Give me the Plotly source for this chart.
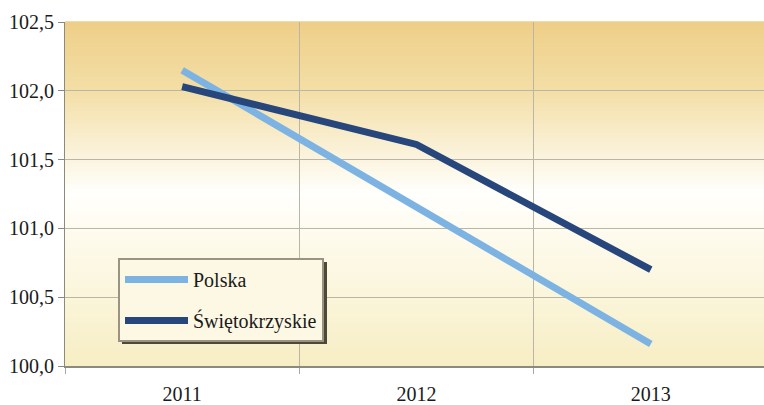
import plotly.graph_objects as go

years = ["2011", "2012", "2013"]
polska = [102.15, 101.16, 100.16]
swietokrzyskie = [102.03, 101.61, 100.70]
y_tickvals = [100.0, 100.5, 101.0, 101.5, 102.0, 102.5]
y_ticktext = ["100,0", "100,5", "101,0", "101,5", "102,0", "102,5"]

W, H = 764, 405
ML, MR, MT, MB = 65, 0, 22, 39
SERIF = "Liberation Serif"
FS = 20

fig = go.Figure()
fig.add_trace(go.Scatter(x=years, y=polska, mode="lines", name="Polska", legendgroup="a",
                         line=dict(color="#7db3e2", width=7)))
fig.add_trace(go.Scatter(x=years, y=swietokrzyskie, mode="lines", name="Świętokrzyskie",
                         legendgroup="b", line=dict(color="#26467c", width=7)))

stops = [(0.0, (238, 207, 136)), (0.2, (243, 222, 166)), (0.42, (252, 246, 228)),
         (0.5, (255, 255, 253)), (0.62, (254, 251, 238)), (1.0, (247, 238, 196))]

def col_at(f):
    for (a, ca), (b, cb) in zip(stops[:-1], stops[1:]):
        if a <= f <= b:
            t = (f - a) / (b - a) if b > a else 0
            c = [round(ca[i] + (cb[i] - ca[i]) * t) for i in range(3)]
            return "rgb(%d,%d,%d)" % tuple(c)
    return "rgb(%d,%d,%d)" % stops[-1][1]

N = 80
shapes = []
for i in range(N):
    f0, f1 = i / N, (i + 1) / N
    shapes.append(dict(type="rect", xref="x domain", yref="y domain",
                       x0=0, x1=1, y0=1 - f1, y1=1 - f0 + 0.002,
                       fillcolor=col_at((f0 + f1) / 2), line=dict(width=0),
                       layer="below"))

pw = W - ML - MR
ph = H - MT - MB
def px2paper(x, y):
    return (x - ML) / pw, (H - MB - y) / ph

sx0, sy0 = px2paper(122, 262)
sx1, sy1 = px2paper(327, 344)
shapes.append(dict(type="rect", xref="paper", yref="paper", x0=sx0, x1=sx1,
                   y0=sy1, y1=sy0, fillcolor="#4e4839", line=dict(width=0), layer="above"))

lx, ly = px2paper(118, 258)

fig.update_layout(
    width=W, height=H,
    margin=dict(l=ML, r=MR, t=MT, b=MB, autoexpand=False),
    paper_bgcolor="white",
    plot_bgcolor="rgba(0,0,0,0)",
    shapes=shapes,
    font=dict(family=SERIF, size=FS, color="#1a1a1a"),
    showlegend=True,
    legend=dict(x=lx, y=ly, xanchor="left", yanchor="top",
                bgcolor="#fdf8e4", bordercolor="#9a9282", borderwidth=2,
                font=dict(family=SERIF, size=FS, color="#1a1a1a"),
                itemwidth=63, tracegroupgap=12),
    xaxis=dict(type="category", range=[-0.5, 2.483], tickson="boundaries",
               automargin=False, ticklabelstandoff=9,
               showgrid=True, gridcolor="#b9b6a6", gridwidth=1,
               ticks="outside", ticklen=6, tickcolor="#a8a8a0",
               showline=True, linecolor="#8c8a7c", linewidth=2,
               tickfont=dict(family=SERIF, size=FS, color="#1a1a1a"),
               fixedrange=True),
    yaxis=dict(range=[100.0, 102.5], tickvals=y_tickvals, ticktext=y_ticktext,
               automargin=False,
               showgrid=True, gridcolor="#b9b6a6", gridwidth=1,
               ticks="outside", ticklen=6, tickcolor="#8c8a7c",
               showline=True, linecolor="#8c8a7c", linewidth=1,
               zeroline=False,
               tickfont=dict(family=SERIF, size=FS, color="#1a1a1a"),
               fixedrange=True),
)

fig.write_html("out.html", config={"displayModeBar": False},
               post_script="document.body.style.margin='0';")
